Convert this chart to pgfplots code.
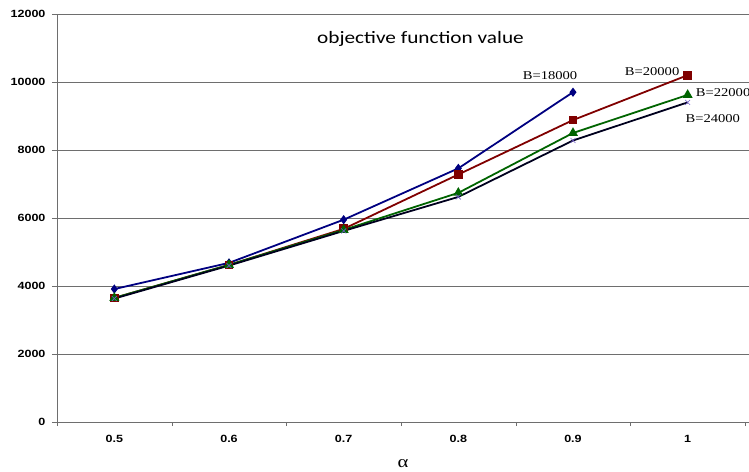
\documentclass[border=0pt]{standalone}
\usepackage{pgfplots}
\pgfplotsset{compat=1.18}
\usepackage{fontspec}
\setmainfont{Liberation Serif}[FakeStretch=1.22]
\newfontfamily\arial{Liberation Sans}[FakeStretch=1.2]
\newfontfamily\calibri{Carlito}[FakeStretch=1.22]
\definecolor{bnavy}{RGB}{0,0,128}
\definecolor{bred}{RGB}{128,0,0}
\definecolor{bgreen}{RGB}{0,100,0}
\definecolor{bblack}{RGB}{0,0,30}
\definecolor{bviolet}{RGB}{110,90,200}
\definecolor{axgray}{RGB}{110,110,110}
\begin{document}
\begin{tikzpicture}
\useasboundingbox (-57bp,-50bp) rectangle (692bp,422bp);
\begin{axis}[
  at={(0,0)}, anchor=south west,
  scale only axis,
  width=692bp, height=408bp,
  xmin=-0.5, xmax=5.535,
  ymin=0, ymax=12000,
  axis x line=bottom, axis y line=left,
  axis line style={axgray, -},
  xtick={0,1,2,3,4,5},
  xticklabels={0.5,0.6,0.7,0.8,0.9,1},
  major x tick style={draw=none},
  minor xtick={-0.5,0.5,1.5,2.5,3.5,4.5,5.5},
  minor x tick style={axgray},
  minor tick length=4bp,
  ytick={0,2000,...,12000},
  major tick length=5bp,
  y tick style={axgray},
  tick align=outside,
  ymajorgrids,
  grid style={axgray, line width=0.6pt},
  scaled ticks=false,
  /pgf/number format/set thousands separator={},
  /pgf/number format/assume math mode=true,
  tick label style={font=\arial\bfseries\fontsize{10.5}{12}\selectfont},
  yticklabel style={xshift=-3bp},
  xticklabel style={yshift=-5bp},
  xlabel={α},
  xlabel style={font=\fontsize{17}{18}\selectfont, yshift=-10bp},
  clip=false,
]
\addplot[color=bnavy, line width=1.8pt, mark=diamond*, mark size=3.2pt] coordinates {
  (0, 3910) (1, 4680) (2, 5950) (3, 7460) (4, 9700)
};
\addplot[color=bred, line width=1.8pt, mark=square*, mark size=3.5pt] coordinates {
  (0, 3650) (1, 4620) (2, 5680) (3, 7280) (4, 8880) (5, 10200)
};
\addplot[color=bgreen, line width=1.8pt, mark=triangle*, mark size=4pt] coordinates {
  (0, 3650) (1, 4620) (2, 5650) (3, 6740) (4, 8500) (5, 9620)
};
\addplot[color=bblack, line width=1.8pt, mark=x, mark size=3.5pt, mark options={color=bviolet, line width=0.6pt}] coordinates {
  (0, 3630) (1, 4600) (2, 5620) (3, 6620) (4, 8280) (5, 9400)
};
\node[font=\calibri\fontsize{17.5}{19}\selectfont] at (axis cs:2.67,11270) {objective function value};
\node[font=\fontsize{12}{14}\selectfont] at (axis cs:3.80,10180) {B=18000};
\node[font=\fontsize{12}{14}\selectfont] at (axis cs:4.69,10300) {B=20000};
\node[font=\fontsize{12}{14}\selectfont, anchor=west, inner sep=0pt] at (axis cs:5.07,9700) {B=22000};
\node[font=\fontsize{12}{14}\selectfont, anchor=west, inner sep=0pt] at (axis cs:4.98,8930) {B=24000};
\end{axis}
\end{tikzpicture}
\end{document}
